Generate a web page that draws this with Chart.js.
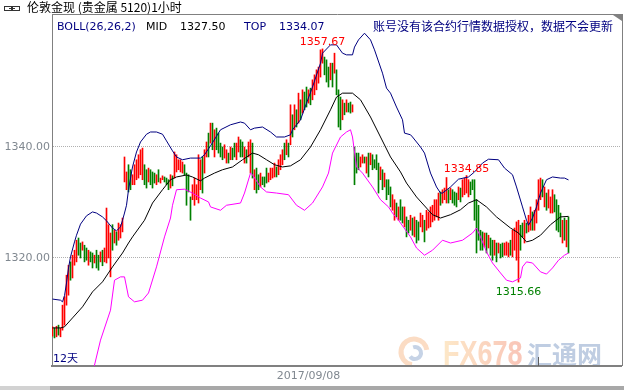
<!DOCTYPE html>
<html>
<head>
<meta charset="utf-8">
<script src="https://cdn.jsdelivr.net/npm/chart.js@4.4.0/dist/chart.umd.min.js"></script>
<style>
    body { margin: 0; background: #fff; }
    canvas { display: block; }
</style>
</head>
<body>
<canvas id="grafica" width="624" height="390"></canvas>
<script>
var tituloGrafica = "伦敦金现 (贵金属 5120)1小时";
var avisoDatos = "账号没有该合约行情数据授权，数据不会更新";
var etiquetaDias = "12天";

// una barra por hora: maximo, minimo y si cerro al alza (1) o a la baja (0)
var maximos = [
    1307.6,1307.4,1307.7,1307.9,1307.4,1311.5,1313.0,1316.9,1318.7,1319.3,
    1320.5,1321.4,1323.2,1323.6,1322.7,1322.9,1322.3,1321.8,1321.4,1321.1,
    1320.9,1320.5,1321.4,1320.5,1321.1,1321.4,1321.8,1329.0,1326.0,1324.5,
    1326.0,1325.0,1324.7,1326.3,1326.0,1327.2,1338.2,1335.5,1336.8,1335.9,
    1335.0,1336.8,1337.7,1338.6,1339.5,1339.8,1336.8,1335.9,1336.2,1335.9,
    1335.5,1335.3,1335.0,1335.9,1334.4,1334.8,1334.6,1334.4,1334.1,1335.0,
    1334.8,1339.1,1338.6,1337.7,1337.7,1337.3,1336.8,1335.3,1335.0,1331.0,
    1333.2,1334.4,1333.2,1338.6,1337.7,1338.2,1339.5,1340.9,1342.5,1344.3,
    1344.3,1343.1,1343.4,1342.5,1340.7,1340.0,1340.4,1339.5,1338.9,1340.0,
    1339.8,1340.7,1340.7,1341.8,1341.3,1340.9,1340.0,1339.5,1340.9,1341.3,
    1340.7,1335.9,1336.2,1335.0,1335.3,1334.6,1334.6,1336.2,1335.3,1336.2,
    1336.2,1337.1,1336.4,1337.7,1338.6,1339.5,1340.7,1341.3,1340.7,1347.6,
    1345.8,1347.6,1346.7,1349.7,1348.5,1350.3,1349.9,1350.8,1350.3,1350.6,
    1352.1,1353.0,1353.9,1354.4,1357.5,1357.67,1356.2,1355.7,1354.4,1355.1,
    1355.1,1356.9,1353.9,1350.3,1349.0,1348.5,1347.9,1348.5,1347.9,1348.1,
    1347.6,1340.0,1338.9,1338.9,1338.2,1338.6,1338.2,1338.2,1338.9,1338.9,
    1338.6,1337.7,1338.6,1337.1,1336.4,1335.9,1335.3,1334.1,1334.1,1332.8,
    1331.4,1330.5,1329.9,1329.2,1330.5,1329.2,1329.2,1327.4,1326.8,1327.7,
    1327.2,1327.4,1326.8,1326.5,1328.1,1327.7,1326.8,1328.6,1328.3,1329.2,
    1329.5,1330.5,1330.5,1331.7,1331.9,1332.3,1332.6,1334.5,1332.3,1332.6,
    1332.3,1331.9,1331.7,1332.8,1332.6,1334.1,1334.4,1334.85,1334.1,1333.7,
    1334.1,1334.1,1330.5,1329.5,1325.0,1324.7,1324.5,1324.5,1324.1,1323.6,
    1323.2,1323.2,1322.7,1322.7,1322.5,1322.7,1322.7,1322.9,1322.7,1323.2,
    1325.0,1325.4,1326.5,1326.8,1325.9,1326.3,1326.8,1326.3,1327.7,1329.2,
    1328.3,1328.6,1330.5,1334.1,1334.4,1334.1,1332.8,1331.7,1332.3,1331.0,
    1332.3,1331.4,1330.5,1329.5,1328.1,1326.8,1327.2,1326.8,1327.4
];
var minimos = [
    1305.9,1305.6,1305.8,1306.1,1305.8,1307.0,1307.9,1311.5,1313.3,1316.0,
    1316.4,1318.7,1319.3,1320.5,1320.0,1321.4,1319.3,1319.6,1318.7,1319.3,
    1318.2,1319.1,1318.2,1317.8,1319.3,1318.6,1319.3,1319.1,1320.0,1316.6,
    1321.4,1322.7,1322.3,1323.2,1323.6,1324.7,1333.7,1332.3,1331.9,1332.3,
    1333.2,1333.2,1334.1,1334.4,1335.0,1334.1,1333.2,1332.6,1333.7,1333.2,
    1332.6,1333.5,1333.2,1333.7,1333.5,1334.1,1333.7,1333.2,1332.3,1332.6,
    1333.0,1334.4,1335.5,1335.9,1335.5,1335.3,1335.0,1329.5,1331.9,1326.8,
    1330.5,1329.5,1330.5,1329.9,1332.3,1331.7,1335.3,1338.2,1338.2,1340.7,
    1339.5,1338.2,1339.5,1338.9,1338.2,1337.7,1338.0,1337.1,1337.1,1337.7,
    1337.7,1338.2,1337.7,1339.1,1338.2,1338.2,1337.1,1337.1,1338.2,1335.3,
    1334.4,1332.3,1331.7,1332.3,1332.8,1333.2,1332.8,1333.5,1333.7,1334.1,
    1334.4,1334.6,1334.6,1335.0,1335.9,1336.8,1337.7,1338.6,1338.2,1340.4,
    1341.8,1343.1,1343.6,1344.3,1344.9,1346.1,1346.7,1347.2,1347.9,1347.6,
    1348.5,1349.4,1350.3,1351.5,1352.6,1355.1,1353.0,1351.7,1350.8,1352.1,
    1350.8,1353.3,1349.4,1343.6,1343.1,1344.9,1345.8,1346.3,1346.3,1346.1,
    1346.3,1333.2,1335.3,1335.9,1336.4,1337.1,1337.1,1335.3,1334.6,1336.8,
    1335.9,1336.2,1335.9,1331.7,1334.1,1332.3,1332.8,1330.5,1331.4,1329.2,
    1328.6,1326.8,1327.4,1326.8,1326.8,1326.3,1325.6,1323.8,1324.5,1325.0,
    1324.1,1323.8,1322.7,1323.2,1325.6,1324.7,1322.9,1325.0,1325.4,1325.6,
    1326.5,1326.8,1327.4,1326.8,1329.5,1329.9,1330.5,1329.9,1329.9,1330.5,
    1329.9,1329.5,1329.2,1330.5,1330.1,1331.0,1331.4,1331.7,1331.0,1331.4,
    1332.3,1326.8,1320.9,1323.2,1321.4,1321.4,1322.0,1320.9,1321.8,1320.5,
    1319.6,1320.5,1319.3,1320.9,1320.0,1320.2,1320.5,1320.5,1320.2,1320.5,
    1320.2,1321.4,1319.6,1315.66,1321.4,1323.8,1322.7,1324.5,1324.7,1325.0,
    1325.0,1325.0,1326.3,1328.6,1330.5,1331.0,1329.2,1328.6,1329.0,1328.1,
    1328.1,1328.3,1325.0,1324.7,1323.8,1322.7,1323.2,1322.0,1320.9
];
var sube = [
    1,0,1,0,1,1,1,1,1,0, 1,1,1,0,0,1,0,0,1,0, 0,1,0,0,1,0,1,1,1,1,
    0,1,0,1,1,1,1,1,0,0, 1,1,1,1,1,1,0,0,1,0, 0,0,1,0,1,1,0,0,0,1,
    0,1,1,1,1,1,0,0,0,0, 1,1,1,1,1,0,1,1,0,1, 0,1,0,0,0,0,1,1,0,1,
    0,0,1,1,0,0,1,0,1,1, 0,1,0,0,1,0,0,0,1,1, 1,1,0,1,1,1,0,1,0,1,
    0,1,0,1,0,1,0,0,1,0, 1,1,1,1,1,1,0,0,0,1, 0,1,0,0,0,1,0,1,0,0,
    1,0,0,0,1,1,0,1,0,1, 0,0,0,0,1,0,1,0,0,0, 1,1,0,1,0,0,1,0,0,1,
    0,1,0,0,1,1,0,1,1,1, 1,1,1,1,0,1,1,1,0,1, 0,0,0,1,0,1,1,1,1,0,
    0,0,0,0,0,0,1,0,1,0, 0,1,0,1,0,0,1,1,1,0, 1,1,1,1,0,0,1,0,1,1,
    0,1,1,1,1,0,1,0,1,1, 1,0,0,0,0,1,0,1,0
];

// BOLL(26,26,2): [indice de barra, precio]
var bandaSuperior = [
    [0,1312.6],[4,1312.4],[5,1312.1],[6,1313.2],[7,1315.5],[8,1318.2],[9,1320.2],[11,1322.9],[12,1324.1],
    [14,1326.1],[17,1327.6],[20,1328.3],[22,1328.1],[25,1327.4],[27,1326.7],[30,1325.4],[32,1324.9],
    [34,1325.6],[35,1326.8],[36,1328.1],[37,1329.5],[38,1332.3],[40,1336.4],[42,1339.1],[44,1340.9],
    [47,1342.3],[49,1342.7],[52,1342.7],[55,1342.3],[57,1341.1],[60,1339.3],[62,1338.2],[65,1337.7],
    [69,1338.0],[74,1338.0],[76,1338.6],[79,1340.2],[84,1343.1],[89,1344.0],[94,1344.5],[96,1344.3],
    [99,1343.1],[101,1343.4],[105,1343.6],[109,1342.7],[112,1341.8],[116,1341.8],[119,1342.2],
    [120,1343.1],[124,1344.9],[127,1347.9],[130,1350.8],[134,1355.1],[135,1356.9],[139,1358.4],
    [142,1358.4],[145,1356.9],[147,1356.6],[150,1356.6],[151,1358.0],[153,1359.3],[156,1360.5],
    [159,1359.3],[161,1357.5],[165,1353.3],[167,1350.6],[169,1349.7],[172,1347.2],[175,1344.9],
    [176,1342.5],[179,1342.2],[180,1341.8],[184,1340.0],[186,1338.9],[189,1335.3],[192,1332.8],
    [194,1331.7],[195,1331.7],[199,1332.8],[203,1334.2],[208,1334.6],[211,1335.5],[215,1337.1],
    [218,1337.8],[223,1337.7],[226,1336.2],[230,1335.0],[232,1332.8],[235,1329.2],[237,1326.8],
    [238,1325.9],[240,1327.2],[242,1329.2],[244,1331.7],[247,1334.1],[250,1334.6],[254,1334.4],
    [256,1334.4],[258,1334.07]
];
var bandaMedia = [
    [0,1307.4],[4,1307.4],[6,1307.6],[10,1309.2],[15,1311.2],[20,1313.9],[25,1315.7],[30,1318.4],
    [35,1320.9],[38,1322.7],[40,1323.8],[46,1326.8],[50,1329.9],[55,1332.3],[59,1334.1],[62,1334.6],
    [67,1334.95],[70,1334.6],[74,1333.9],[76,1334.4],[81,1335.3],[85,1335.9],[90,1336.4],[95,1337.7],
    [100,1338.9],[103,1338.6],[107,1337.7],[111,1336.8],[115,1336.4],[119,1336.6],[124,1337.7],
    [129,1340.0],[134,1343.1],[139,1346.7],[142,1349.0],[145,1349.7],[150,1349.7],[154,1348.5],
    [159,1345.4],[164,1341.8],[169,1338.2],[174,1335.5],[177,1333.5],[182,1331.0],[187,1329.0],
    [190,1327.8],[194,1327.2],[199,1327.8],[204,1328.7],[208,1329.9],[212,1330.5],[217,1329.2],
    [222,1327.4],[229,1325.4],[233,1324.5],[237,1322.9],[240,1323.2],[244,1324.1],[249,1326.0],
    [254,1327.4],[258,1327.5]
];
var bandaInferior = [
    [20,1299.5],[21,1300.7],[24,1305.2],[29,1310.6],[31,1316.0],[34,1316.6],[36,1316.6],[38,1313.0],
    [41,1312.1],[45,1312.4],[48,1313.7],[52,1318.4],[56,1323.8],[59,1327.2],[60,1329.5],[62,1332.3],
    [66,1332.4],[70,1331.7],[74,1330.8],[78,1330.1],[79,1329.2],[84,1328.6],[87,1329.5],[94,1329.9],
    [96,1331.7],[99,1335.3],[100,1335.0],[104,1332.8],[107,1331.9],[112,1331.7],[118,1331.4],
    [122,1329.5],[126,1328.6],[130,1329.9],[135,1332.8],[138,1335.3],[140,1338.9],[144,1341.8],
    [147,1342.7],[149,1343.1],[150,1341.8],[152,1336.4],[155,1335.3],[160,1332.8],[164,1330.5],
    [168,1329.2],[170,1328.1],[173,1326.8],[174,1326.3],[179,1323.8],[182,1321.8],[186,1320.5],
    [190,1321.4],[195,1323.2],[199,1322.7],[205,1323.2],[210,1324.5],[212,1325.4],[214,1323.8],
    [217,1321.1],[220,1319.1],[224,1317.3],[227,1316.0],[230,1315.7],[234,1316.4],[235,1318.4],
    [237,1319.3],[240,1319.1],[244,1317.5],[247,1317.1],[250,1318.2],[253,1319.6],[256,1320.5],
    [258,1320.9]
];

var marcasMax = [135, 207];
var marcasMin = [233];
var ticksY = [1320, 1340];
var fechasEje = [[128, "2017/09/08"]];
var separadores = [242.5];

function aPuntos(banda) {
    return banda.map(function (p) { return { x: p[0], y: p[1] }; });
}

var barras = maximos.map(function (h, i) { return { x: i, y: [minimos[i], h] }; });
var coloresBarras = sube.map(function (s) { return s ? "#ff0000" : "#008000"; });

var fuenteTexto = "11px 'DejaVu Sans', 'Noto Sans CJK SC'";
var fuenteCJK = "12px 'Noto Sans CJK SC'";

var decoracion = {
    id: "decoracion",
    beforeDraw: function (chart) {
        var ctx = chart.ctx;
        ctx.save();
        ctx.fillStyle = "#ffffff";
        ctx.fillRect(0, 0, chart.width, chart.height);

        // marca de agua FX678 汇通网
        ctx.lineWidth = 5;
        ctx.strokeStyle = "#fbdcc4";
        ctx.beginPath();
        ctx.arc(414, 352, 13, 0.55 * Math.PI, 1.95 * Math.PI);
        ctx.stroke();
        ctx.strokeStyle = "#c6d3e6";
        ctx.lineWidth = 4;
        ctx.beginPath();
        ctx.arc(415, 353, 6, -0.6 * Math.PI, 0.8 * Math.PI);
        ctx.stroke();

        ctx.save();
        ctx.translate(443, 365);
        ctx.scale(1, 1.28);
        var grad = ctx.createLinearGradient(0, 0, 76, 0);
        grad.addColorStop(0, "#fde8c8");
        grad.addColorStop(1, "#f9c6b8");
        ctx.fillStyle = grad;
        ctx.font = "bold 27px 'Liberation Sans'";
        ctx.fillText("FX678", 0, 0);
        ctx.restore();

        ctx.fillStyle = "#bfcde2";
        ctx.font = "bold 25px 'Noto Sans CJK SC'";
        ctx.fillText("汇通网", 527, 364);
        ctx.restore();
    },
    afterDraw: function (chart) {
        var ctx = chart.ctx;
        var area = chart.chartArea;
        var ejeX = chart.scales.x;
        var ejeY = chart.scales.y;
        ctx.save();

        // marco superior y derecho
        ctx.strokeStyle = "#808080";
        ctx.lineWidth = 1;
        ctx.beginPath();
        ctx.moveTo(area.left, 14.5);
        ctx.lineTo(area.right + 2, 14.5);
        ctx.moveTo(area.right + 1.5, 14);
        ctx.lineTo(area.right + 1.5, area.bottom);
        ctx.stroke();
        ctx.fillStyle = "#808080";
        ctx.beginPath();
        ctx.moveTo(area.right - 8, 15);
        ctx.lineTo(area.right + 1, 15);
        ctx.lineTo(area.right + 1, 21);
        ctx.closePath();
        ctx.fill();

        // separador de dia
        ctx.strokeStyle = "#606060";
        separadores.forEach(function (s) {
            var x = Math.round(ejeX.getPixelForValue(s)) + 0.5;
            ctx.beginPath();
            ctx.moveTo(x, area.bottom - 9);
            ctx.lineTo(x, area.bottom);
            ctx.stroke();
        });

        // titulo
        ctx.strokeStyle = "#333333";
        ctx.strokeRect(4.5, 6.5, 7, 4);
        ctx.strokeRect(12.5, 6.5, 7, 4);
        ctx.beginPath();
        ctx.moveTo(9, 8.5);
        ctx.lineTo(15, 8.5);
        ctx.stroke();
        ctx.fillStyle = "#000000";
        ctx.font = fuenteCJK;
        ctx.textBaseline = "alphabetic";
        ctx.fillText(tituloGrafica, 27, 12);

        // cabecera BOLL
        var mid = bandaMedia[bandaMedia.length - 1][1];
        var top = bandaSuperior[bandaSuperior.length - 1][1];
        ctx.font = fuenteTexto;
        ctx.fillStyle = "#000080";
        ctx.fillText("BOLL(26,26,2)", 57, 30);
        ctx.fillStyle = "#000000";
        ctx.fillText("MID", 146, 30);
        ctx.fillText(mid.toFixed(2), 180, 30);
        ctx.fillStyle = "#000080";
        ctx.fillText("TOP", 244, 30);
        ctx.fillText(top.toFixed(2), 279, 30);
        ctx.font = fuenteCJK;
        ctx.fillText(avisoDatos, 373, 31);

        ctx.font = fuenteTexto;
        ctx.fillText(etiquetaDias, 53, 362);

        // maximos y minimos marcados
        ctx.textAlign = "center";
        ctx.fillStyle = "#ff0000";
        marcasMax.forEach(function (i) {
            var x = ejeX.getPixelForValue(i);
            var y = ejeY.getPixelForValue(maximos[i]);
            ctx.fillText(maximos[i].toFixed(2), x, y - 4);
        });
        ctx.fillStyle = "#008000";
        marcasMin.forEach(function (i) {
            var x = ejeX.getPixelForValue(i);
            var y = ejeY.getPixelForValue(minimos[i]);
            ctx.fillText(minimos[i].toFixed(2), x, y + 13);
        });

        // barra inferior
        ctx.fillStyle = "#a8a8a8";
        ctx.fillRect(0, 386, chart.width, 4);
        ctx.fillStyle = "#d2d2d2";
        ctx.fillRect(0, 386, 50, 4);
        ctx.restore();
    }
};

var grafica = new Chart(document.getElementById("grafica"), {
    type: "bar",
    data: {
        datasets: [
            {
                type: "line",
                data: aPuntos(bandaSuperior),
                borderColor: "#000080",
                borderWidth: 1,
                pointRadius: 0,
                tension: 0,
                fill: false,
                order: 0
            },
            {
                type: "line",
                data: aPuntos(bandaMedia),
                borderColor: "#000000",
                borderWidth: 1,
                pointRadius: 0,
                tension: 0,
                fill: false,
                order: 0
            },
            {
                type: "line",
                data: aPuntos(bandaInferior),
                borderColor: "#ff00ff",
                borderWidth: 1,
                pointRadius: 0,
                tension: 0,
                fill: false,
                order: 0
            },
            {
                type: "bar",
                data: barras,
                backgroundColor: coloresBarras,
                borderWidth: 0,
                barThickness: 1,
                order: 1
            }
        ]
    },
    options: {
        responsive: false,
        animation: false,
        events: [],
        layout: { padding: { top: 14, right: 3, left: 0, bottom: 0 } },
        plugins: {
            legend: { display: false },
            tooltip: { enabled: false }
        },
        scales: {
            x: {
                type: "linear",
                offset: false,
                min: -0.25,
                max: 284.25,
                grid: { display: false, drawTicks: false },
                border: { display: true, color: "#808080", width: 2 },
                afterBuildTicks: function (scale) {
                    scale.ticks = fechasEje.map(function (f) { return { value: f[0] }; });
                },
                afterFit: function (scale) { scale.height = 24; },
                ticks: {
                    autoSkip: false,
                    maxRotation: 0,
                    padding: 4,
                    color: "#808890",
                    font: { family: "DejaVu Sans", size: 11 },
                    callback: function (v) {
                        var f = fechasEje.find(function (e) { return e[0] === v; });
                        return f ? f[1] : "";
                    }
                }
            },
            y: {
                type: "linear",
                position: "left",
                min: 1300.54,
                max: 1363.96,
                grid: { color: "#b0b0b0", lineWidth: 1, drawTicks: false },
                border: { display: true, color: "#808080", width: 1, dash: [1, 1] },
                afterBuildTicks: function (scale) {
                    scale.ticks = ticksY.map(function (v) { return { value: v }; });
                },
                afterFit: function (scale) { scale.width = 52; },
                ticks: {
                    padding: 2,
                    color: "#808890",
                    font: { family: "DejaVu Sans", size: 11 },
                    callback: function (v) { return v.toFixed(2); }
                }
            }
        }
    },
    plugins: [decoracion]
});
</script>
</body>
</html>
